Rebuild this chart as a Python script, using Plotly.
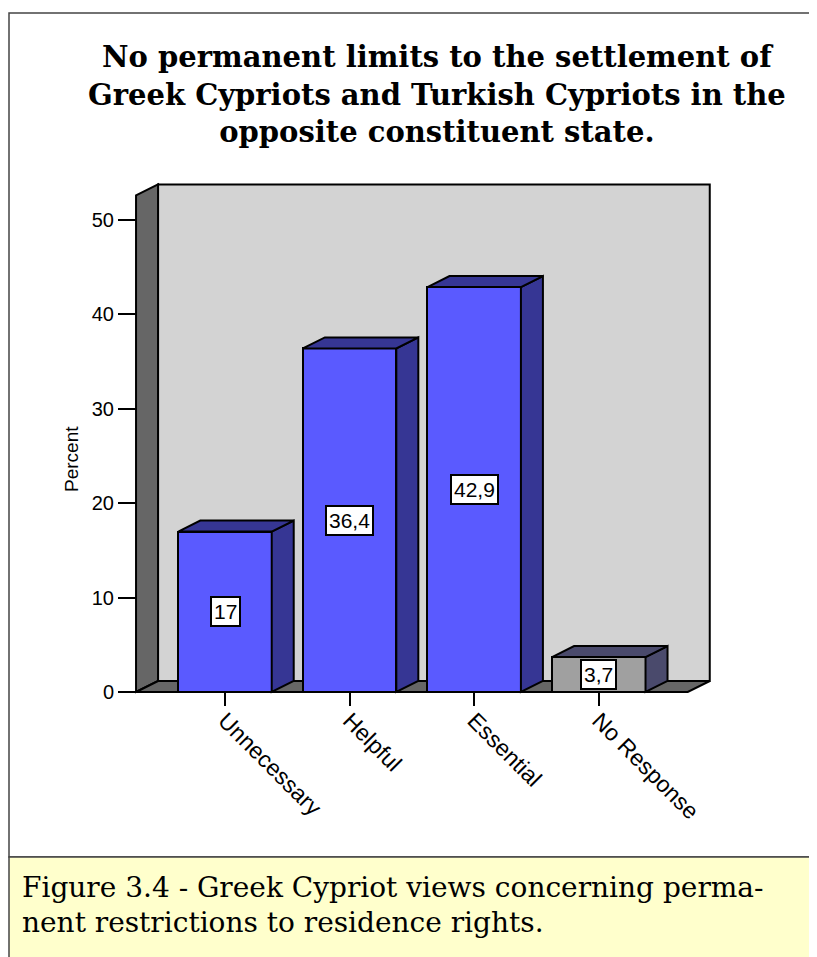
import plotly.graph_objects as go

# ---------------- data ----------------
categories = ["Unnecessary", "Helpful", "Essential", "No Response"]
values = [17, 36.4, 42.9, 3.7]
value_labels = ["17", "36,4", "42,9", "3,7"]
y_ticks = [0, 10, 20, 30, 40, 50]

title_lines = ["No permanent limits to the settlement of",
               "Greek Cypriots and Turkish Cypriots in the",
               "opposite constituent state."]
caption_lines = ["Figure 3.4 - Greek Cypriot views concerning perma-",
                 "nent restrictions to residence rights."]

# ---------------- styling / geometry ----------------
OFF = 8                      # browser body margin
W, H = 817 - OFF, 957 - OFF  # figure size
front_cols = ["#5A5AFF", "#5A5AFF", "#5A5AFF", "#A0A0A0"]
side_cols = ["#363694", "#363694", "#363694", "#4A4A6C"]
BAR_W = 0.75
WALL_TOP = 52.6
X_LO, X_HI = -0.714, 3.714

# pixel mapping of the plot in page pixels (category index / percent)
PX_CAT = 124.6
PX_VAL = 9.44
X0_PX = 225
Y0_PX = 692
DX = 22 / PX_CAT
DY = 11 / PX_VAL

SP_L, SP_R, SP_T, SP_B = 100, 770, 130, 720
xr = [(SP_L - X0_PX) / PX_CAT, (SP_R - X0_PX) / PX_CAT]
yr = [(Y0_PX - SP_B) / PX_VAL, (Y0_PX - SP_T) / PX_VAL]


def px(xp):
    return (xp - OFF) / W


def py(yp):
    return 1 - (yp - OFF) / H


def poly(pts):
    return "M " + " L ".join(f"{a},{b}" for a, b in pts) + " Z"


fig = go.Figure()

fig.add_trace(go.Bar(
    x=list(range(len(categories))), y=values, width=BAR_W,
    marker=dict(color=front_cols, line=dict(color="black", width=2)),
    hoverinfo="skip", showlegend=False,
))

shapes = []
edge = dict(color="black", width=2)
# outer frame and caption box
shapes.append(dict(type="rect", xref="paper", yref="paper", layer="below",
                   x0=px(9), x1=px(830), y0=py(857), y1=py(13),
                   fillcolor="white", line=dict(color="#444444", width=1.5)))
shapes.append(dict(type="rect", xref="paper", yref="paper", layer="below",
                   x0=px(9), x1=px(830), y0=py(965), y1=py(857),
                   fillcolor="#FFFFCC", line=dict(color="#444444", width=1.5)))
# back wall
shapes.append(dict(type="path", xref="x", yref="y", layer="below",
                   path=poly([(X_LO + DX, DY), (X_HI + DX, DY),
                              (X_HI + DX, WALL_TOP + DY), (X_LO + DX, WALL_TOP + DY)]),
                   fillcolor="#D3D3D3", line=edge))
# left wall
shapes.append(dict(type="path", xref="x", yref="y", layer="below",
                   path=poly([(X_LO, 0), (X_LO, WALL_TOP),
                              (X_LO + DX, WALL_TOP + DY), (X_LO + DX, DY)]),
                   fillcolor="#666666", line=edge))
# floor
shapes.append(dict(type="path", xref="x", yref="y", layer="below",
                   path=poly([(X_LO, 0), (X_HI, 0), (X_HI + DX, DY), (X_LO + DX, DY)]),
                   fillcolor="#666666", line=edge))

# bar side and top faces
for i, v in enumerate(values):
    l, r = i - BAR_W / 2, i + BAR_W / 2
    shapes.append(dict(type="path", xref="x", yref="y", layer="above",
                       path=poly([(r, 0), (r, v), (r + DX, v + DY), (r + DX, DY)]),
                       fillcolor=side_cols[i], line=edge))
    shapes.append(dict(type="path", xref="x", yref="y", layer="above",
                       path=poly([(l, v), (r, v), (r + DX, v + DY), (l + DX, v + DY)]),
                       fillcolor=side_cols[i], line=edge))

annotations = []
for i, (v, t) in enumerate(zip(values, value_labels)):
    annotations.append(dict(x=i, y=v / 2, xref="x", yref="y", text=t, showarrow=False,
                            xanchor="center", yanchor="middle",
                            font=dict(family="Liberation Sans, Arial", size=21, color="black"),
                            bgcolor="white", bordercolor="black", borderwidth=2, borderpad=2))

annotations.append(dict(x=px(72), y=py(459), xref="paper", yref="paper", text="Percent",
                        textangle=-90, showarrow=False, xanchor="center", yanchor="middle",
                        font=dict(family="Liberation Sans, Arial", size=19, color="black")))

annotations.append(dict(x=px(437), y=py(94), xref="paper", yref="paper",
                        text="<br>".join(f"<b>{s}</b>" for s in title_lines),
                        showarrow=False, align="center", xanchor="center", yanchor="middle",
                        font=dict(family="DejaVu Serif", size=29, color="black")))

for k, line in enumerate(caption_lines):
    annotations.append(dict(x=px(20), y=py(887 + 35 * k), xref="paper", yref="paper",
                            text=line, showarrow=False, xanchor="left", yanchor="middle",
                            font=dict(family="DejaVu Serif", size=28, color="black")))

fig.update_layout(
    width=W, height=H, margin=dict(l=0, r=0, t=0, b=0),
    paper_bgcolor="white", plot_bgcolor="rgba(0,0,0,0)",
    shapes=shapes, annotations=annotations, bargap=0,
    xaxis=dict(domain=[px(SP_L), px(SP_R)], range=xr, anchor="free", position=py(Y0_PX),
               tickvals=list(range(len(categories))), ticktext=categories, tickangle=45,
               ticks="outside", ticklen=13, tickwidth=2, tickcolor="black",
               ticklabelstandoff=-8,
               showgrid=False, zeroline=False, showline=False,
               tickfont=dict(family="Liberation Sans, Arial", size=23, color="black")),
    yaxis=dict(domain=[py(SP_B), py(SP_T)], range=yr, anchor="free",
               position=px(136), tickvals=y_ticks,
               ticks="outside", ticklen=18, tickwidth=2, tickcolor="black",
               showgrid=False, zeroline=False, showline=False,
               tickfont=dict(family="Liberation Sans, Arial", size=20, color="black")),
)

fig.write_html("out.html")
